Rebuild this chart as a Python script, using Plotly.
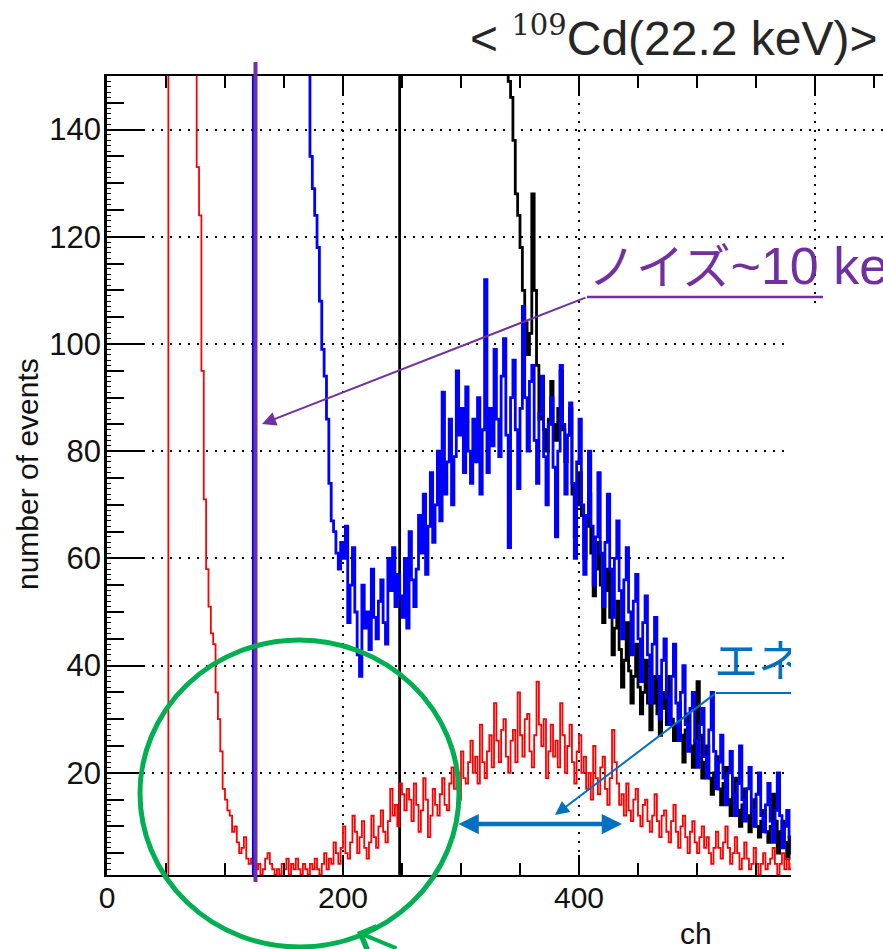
import plotly.graph_objects as go

# ---------------- data ----------------
BIN = 2  # channel width of one histogram bin
ch_edges = list(range(0, 582, BIN))  # left edges of the bins, 0 ... 580

red = ([0] * 26 + [500] * 12 +
       [133, 124, 95, 71, 58, 51, 46, 44, 35, 30,
        24, 17, 15, 13, 12, 9, 10, 7, 5, 6,
        8, 4, 3, 4, 1, 2, 3, 1, 2, 4,
        5, 3, 2, 1, 2, 1, 3, 2, 4, 1,
        3, 2, 4, 2, 1, 3, 2, 1, 3, 2,
        4, 2, 1, 3, 5, 2, 4, 3, 7, 5,
        3, 6, 10, 5, 4, 7, 12, 9, 5, 8,
        11, 6, 4, 7, 12, 8, 6, 10, 13, 9,
        7, 11, 17, 12, 14, 10, 18, 16, 13, 17,
        15, 11, 18, 14, 9, 13, 19, 15, 8, 12,
        17, 14, 12, 16, 19, 14, 13, 18, 21, 17,
        20, 15, 24, 19, 18, 22, 26, 20, 23, 18,
        29, 22, 19, 24, 27, 21, 33, 26, 22, 28,
        30, 23, 20, 26, 28, 22, 35, 27, 23, 30,
        31, 24, 21, 27, 37, 29, 25, 30, 19, 24,
        29, 23, 26, 21, 33, 27, 20, 25, 29, 22,
        18, 24, 27, 20, 23, 17, 20, 15, 25, 19,
        16, 21, 23, 17, 14, 19, 28, 22, 18, 14,
        16, 12, 18, 13, 11, 15, 17, 12, 10, 14,
        15, 11, 9, 12, 16, 11, 8, 12, 13, 9,
        7, 11, 14, 9, 6, 10, 12, 8, 5, 9,
        11, 7, 5, 8, 10, 6, 8, 5, 3, 6,
        9, 6, 4, 7, 10, 6, 3, 5, 8, 5,
        2, 4, 7, 4, 2, 3, 6, 3, 1, 3,
        5, 2, 3, 4, 6, 3, 1, 3, 5, 2,
        4, 2, 3])

blue = ([0] * 62 + [400] * 24 +
        [135, 129, 124, 118, 108, 99, 94, 86, 74, 67,
         65, 61, 58, 63, 60, 66, 48, 55, 62, 50,
         42, 38, 55, 47, 50, 43, 58, 49, 45, 52,
         56, 48, 44, 60, 54, 62, 51, 57, 53, 49,
         60, 47, 65, 56, 51, 58, 68, 61, 72, 57,
         66, 76, 63, 70, 80, 67, 91, 72, 78, 86,
         70, 79, 95, 83, 88, 76, 92, 80, 74, 86,
         78, 90, 72, 84, 112, 76, 88, 81, 99, 86,
         79, 94, 101, 83, 62, 90, 97, 84, 73, 88,
         107, 90, 80, 93, 96, 82, 74, 87, 94, 79,
         70, 85, 90, 77, 64, 80, 96, 85, 72, 83,
         89, 74, 60, 78, 86, 70, 57, 68, 80, 66,
         55, 64, 76, 61, 51, 63, 72, 58, 49, 60,
         67, 54, 45, 56, 62, 50, 42, 52, 57, 45,
         37, 48, 53, 42, 33, 44, 49, 38, 30, 41,
         45, 34, 29, 38, 44, 33, 26, 35, 40, 29,
         24, 32, 35, 26, 21, 29, 32, 23, 19, 28,
         35, 24, 17, 22, 27, 19, 14, 20, 24, 16,
         12, 18, 25, 15, 11, 17, 21, 13, 10, 16,
         20, 12, 9, 14, 18, 11, 7, 13, 20, 12,
         6, 10, 13, 8, 5])

black = ([0] * 124 + [400] * 46 +
         [149, 146, 138, 128, 124, 118, 110, 104, 98, 102,
          128, 110, 96, 86, 92, 84, 80, 86, 93, 85,
          82, 88, 95, 84, 78, 83, 88, 72, 64, 70,
          76, 68, 60, 66, 72, 61, 53, 58, 63, 55,
          48, 54, 58, 49, 42, 47, 52, 43, 36, 41,
          48, 39, 33, 38, 44, 36, 31, 35, 41, 33,
          28, 33, 38, 31, 27, 32, 35, 29, 38, 30,
          26, 29, 33, 27, 22, 28, 31, 25, 21, 26,
          37, 27, 19, 22, 25, 19, 16, 20, 23, 17,
          14, 18, 21, 15, 12, 16, 19, 13, 10, 14,
          17, 12, 9, 13, 15, 10, 8, 11, 13, 9,
          7, 10, 16, 11, 5, 9, 11, 7, 4, 8,
          6])

x_tickvals = [0, 200, 400, 600]
y_tickvals = [20, 40, 60, 80, 100, 120, 140]

title_text = ("&lt; <sup><span style='font-family:DejaVu Serif;font-size:29px'>109</span></sup>"
              "Cd(22.2 keV)&gt;")
noise_text = "<span style='font-size:48px'>ノイズ</span>~10 keV"
res_text = "エネルギー分解能"
x_title = "ch"
y_title = "number of events"

assert len(red) == len(ch_edges) == len(blue) == len(black)

# ---------------- geometry ----------------
W, H = 883, 949
L, T, PB, PR = 107, 76, 875, 883
pxw, pxh = PR - L, PB - T
XMAX = pxw / 1.18
YMIN, YMAX = 0.93, 150.0

def xp(px):
    return (px - L) / pxw

def yp(py):
    return (PB - py) / pxh

def xd(px):
    return (px - L) / pxw * XMAX

def yd(py):
    return YMIN + (PB - py) / pxh * (YMAX - YMIN)

PURPLE = "#7030A0"
BLUE = "#0070C0"
GREEN = "#00B050"
SANS = "Liberation Sans, Arial, sans-serif"
JP = "Liberation Sans, Noto Sans CJK JP, sans-serif"

fig = go.Figure()

x_steps = ch_edges + [ch_edges[-1] + BIN]
for vals, color, width in [(black, "#000000", 2.8), (red, "#FF0000", 1.8), (blue, "#0000FF", 2.8)]:
    fig.add_trace(go.Scatter(x=x_steps, y=vals + [vals[-1]], mode="lines",
                             line=dict(color=color, width=width, shape="hv"),
                             showlegend=False, hoverinfo="skip"))

fig.add_trace(go.Scatter(x=[xd(714)], y=[yd(666)], mode="text", text=[res_text],
                         textposition="middle right",
                         textfont=dict(family=JP, size=44, color=BLUE),
                         cliponaxis=False, showlegend=False, hoverinfo="skip"))

fig.add_trace(go.Scatter(x=[None], y=[None], yaxis="y2", showlegend=False, hoverinfo="skip"))

grid = dict(showgrid=True, gridcolor="black", gridwidth=1.6, griddash="2px,7px")

fig.update_layout(
    width=W, height=H,
    margin=dict(l=L, r=W - PR, t=T, b=H - PB),
    paper_bgcolor="white", plot_bgcolor="white",
    xaxis=dict(range=[0, XMAX], tickmode="array", tickvals=x_tickvals,
               ticks="inside", ticklen=20, tickwidth=1.5, tickcolor="black",
               minor=dict(tickmode="linear", tick0=0, dtick=50, ticks="inside",
                          ticklen=12, tickwidth=1.5, tickcolor="black", showgrid=False),
               showline=True, linewidth=2, linecolor="black", mirror="ticks",
               zeroline=False, ticklabelstandoff=-5,
               tickfont=dict(family=SANS, size=30, color="#111111"),
               **grid),
    yaxis=dict(range=[YMIN, YMAX], tickmode="array", tickvals=y_tickvals,
               ticks="inside", ticklen=38, tickwidth=1.8, tickcolor="black",
               minor=dict(tickmode="linear", tick0=0, dtick=5, ticks="inside",
                          ticklen=17, tickwidth=1.5, tickcolor="black", showgrid=False),
               showline=True, linewidth=2.5, linecolor="black", mirror=False,
               zeroline=False, ticklabelstandoff=-3,
               tickfont=dict(family=SANS, size=31, color="#111111"),
               **grid),
    yaxis2=dict(range=[YMIN, YMAX], overlaying="y", side="left", anchor="x",
                tickmode="linear", tick0=0, dtick=1, ticks="inside", ticklen=4,
                tickwidth=1, tickcolor="black", showticklabels=False,
                showgrid=False, showline=False, zeroline=False),
)

shapes = [
    dict(type="line", x0=xp(255.5), x1=xp(255.5), y0=yp(882), y1=yp(62),
         line=dict(color=PURPLE, width=4)),
    dict(type="line", x0=xp(587), x1=xp(823), y0=yp(297), y1=yp(297),
         line=dict(color=PURPLE, width=2.5)),
    dict(type="line", x0=xp(716), x1=xp(900), y0=yp(693), y1=yp(693),
         line=dict(color=BLUE, width=2)),
    dict(type="circle", x0=xp(140), x1=xp(459), y0=yp(947), y1=yp(640),
         line=dict(color=GREEN, width=5)),
    dict(type="rect", x0=xp(791), x1=xp(910), y0=yp(970), y1=yp(307),
         fillcolor="white", line=dict(width=0)),
]
for s in shapes:
    s.update(xref="paper", yref="paper", layer="above")
    fig.add_shape(**s)

def arrow(hx, hy, tx, ty, color, width, head, size, **kw):
    fig.add_annotation(x=xp(hx), y=yp(hy), xref="paper", yref="paper",
                       ax=tx - hx, ay=ty - hy, axref="pixel", ayref="pixel",
                       text="", showarrow=True, arrowcolor=color, arrowwidth=width,
                       arrowhead=head, arrowsize=size, standoff=0, startstandoff=0, **kw)

arrow(262, 424, 587, 297, PURPLE, 2, 2, 1.4)
arrow(555, 815, 716, 693, BLUE, 2, 2, 1.4)
arrow(622, 824, 457, 824, BLUE, 4.5, 2, 0.9, arrowside="end+start",
      startarrowhead=2, startarrowsize=0.9)
arrow(357, 932, 398, 975, GREEN, 4, 4, 1.2)

fig.add_annotation(x=xp(880), y=yp(37), xref="paper", yref="paper", text=title_text,
                   showarrow=False, xanchor="right", yanchor="middle",
                   font=dict(family=SANS, size=48, color="#262626"))
fig.add_annotation(x=xp(586), y=yp(266), xref="paper", yref="paper", text=noise_text,
                   showarrow=False, xanchor="left", yanchor="middle",
                   font=dict(family=JP, size=52, color=PURPLE))
fig.add_annotation(x=xp(27), y=yp(474), xref="paper", yref="paper", text=y_title,
                   showarrow=False, textangle=-90, xanchor="center", yanchor="middle",
                   font=dict(family=SANS, size=30, color="#111111"))
fig.add_annotation(x=xp(696), y=yp(933), xref="paper", yref="paper", text=x_title,
                   showarrow=False, xanchor="center", yanchor="middle",
                   font=dict(family=SANS, size=30, color="#111111"))

fig.write_html("out.html")
